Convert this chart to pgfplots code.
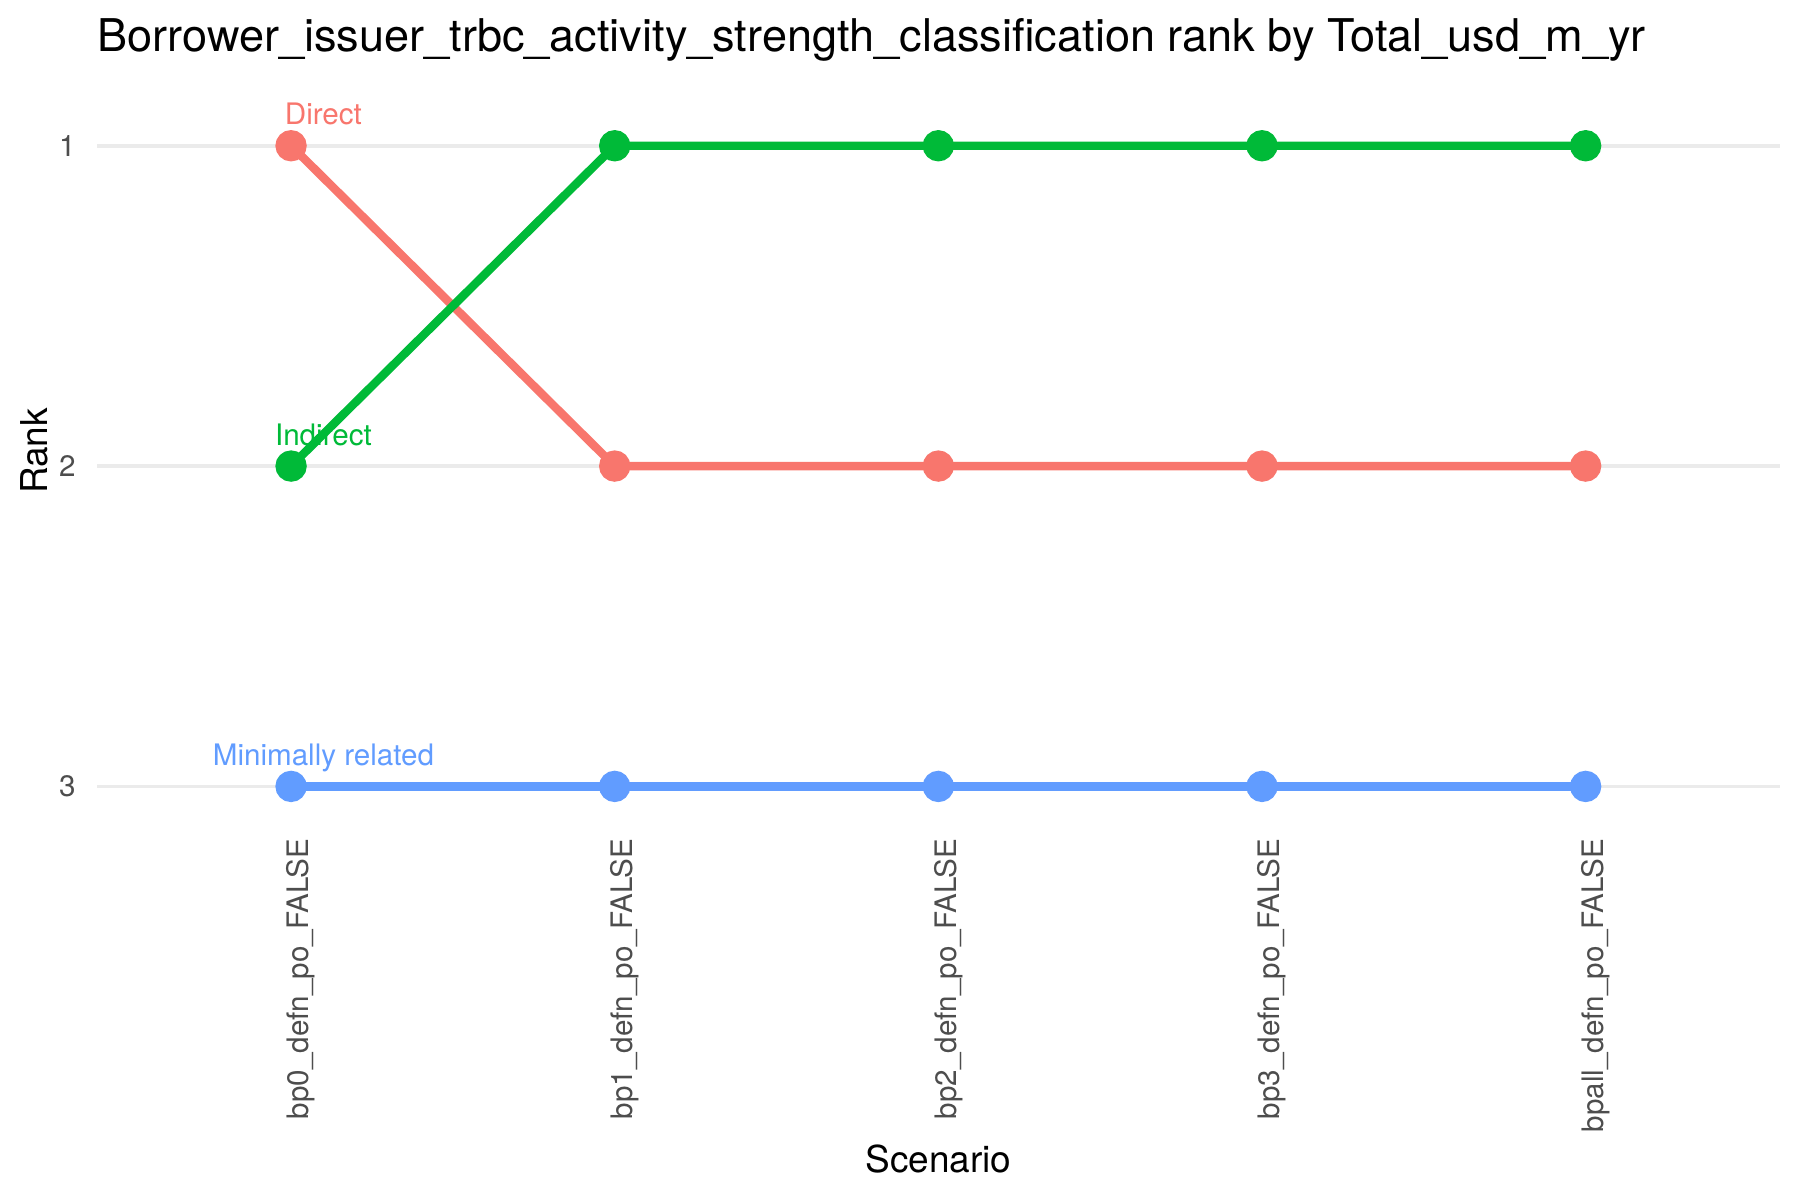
\documentclass[border=0pt]{standalone}
\usepackage{fontspec}
\setmainfont{TeX Gyre Heros}
\usepackage{pgfplots}
\pgfplotsset{compat=1.18}
\definecolor{cdir}{HTML}{F8766D}
\definecolor{cind}{HTML}{00BA38}
\definecolor{cmin}{HTML}{619CFF}
\definecolor{tickgray}{HTML}{4D4D4D}
\definecolor{gridgray}{HTML}{EBEBEB}
\begin{document}
\begin{tikzpicture}
\useasboundingbox (0,0) rectangle (535.1pt,356.7pt);
\begin{axis}[
  name=ax,
  at={(28.8pt,113.4pt)}, anchor=south west,
  scale only axis, width=500.3pt, height=209.5pt,
  xmin=-0.6, xmax=4.6, ymin=0.9, ymax=3.1, y dir=reverse,
  axis line style={draw=none}, major tick length=0pt, tick style={draw=none},
  xtick={0,1,2,3,4},
  xticklabels={bp0\_defn\_po\_FALSE, bp1\_defn\_po\_FALSE, bp2\_defn\_po\_FALSE, bp3\_defn\_po\_FALSE, bpall\_defn\_po\_FALSE},
  ytick={1,2,3},
  ymajorgrids, xmajorgrids=false,
  grid style={draw=gridgray, line width=1.07pt},
  xticklabel style={xshift=3pt, rotate=90, anchor=east, inner sep=0pt, font=\fontsize{8.8}{10}\selectfont, text=tickgray},
  xticklabel shift=5.8pt,
  yticklabel style={anchor=east, inner sep=0pt, font=\fontsize{8.8}{10}\selectfont, text=tickgray},
  yticklabel shift=6.1pt,
  /pgf/number format/assume math mode=true,
  clip=false,
]
\addplot[cdir, line width=2.5pt, mark=*, mark size=3.4pt, mark options={draw=none, fill=cdir}]
  coordinates {(0,1) (1,2) (2,2) (3,2) (4,2)};
\addplot[cind, line width=2.5pt, mark=*, mark size=3.4pt, mark options={draw=none, fill=cind}]
  coordinates {(0,2) (1,1) (2,1) (3,1) (4,1)};
\addplot[cmin, line width=2.5pt, mark=*, mark size=3.4pt, mark options={draw=none, fill=cmin}]
  coordinates {(0,3) (1,3) (2,3) (3,3) (4,3)};
\node[anchor=base, text=cdir, inner sep=0pt, font=\fontsize{8.8}{10}\selectfont] at (axis cs:0.1,0.935) {Direct};
\node[anchor=base, text=cind, inner sep=0pt, font=\fontsize{8.8}{10}\selectfont] at (axis cs:0.1,1.935) {Indirect};
\node[anchor=base, text=cmin, inner sep=0pt, font=\fontsize{8.8}{10}\selectfont] at (axis cs:0.1,2.935) {Minimally related};
\end{axis}
\node[anchor=base west, inner sep=0pt, font=\fontsize{13.4}{15}\selectfont] at ([yshift=18.5pt]ax.north west) {Borrower\_issuer\_trbc\_activity\_strength\_classification rank by Total\_usd\_m\_yr};
\node[anchor=center, inner sep=0pt, font=\fontsize{11}{13}\selectfont] at ([yshift=-101.2pt]ax.south) {Scenario};
\node[anchor=center, inner sep=0pt, rotate=90, font=\fontsize{11}{13}\selectfont] at ([xshift=-18.6pt, yshift=4.5pt]ax.west) {Rank};
\end{tikzpicture}
\end{document}
